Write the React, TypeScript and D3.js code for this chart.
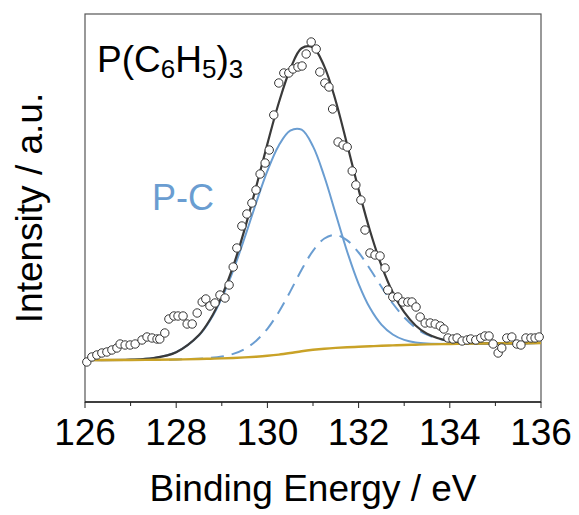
import React from 'react'
import * as d3 from 'd3'

const width = 579
const height = 515
const margin = { left: 85, right: 38, top: 14, bottom: 113 }

// measured spectrum (open circles)
const markerEnergy = [
    126.04, 126.15, 126.26, 126.37, 126.48, 126.59, 126.7, 126.77, 126.88, 126.99,
    127.1, 127.25, 127.36, 127.47, 127.58, 127.64, 127.75, 127.84, 127.95, 128.04,
    128.15, 128.24, 128.35, 128.46, 128.57, 128.65, 128.74, 128.85, 128.96, 129.07,
    129.16, 129.25, 129.33, 129.44, 129.55, 129.66, 129.75, 129.84, 129.95, 130.04,
    130.14, 130.25, 130.36, 130.47, 130.56, 130.67, 130.76, 130.85, 130.96, 131.07,
    131.15, 131.26, 131.35, 131.43, 131.55, 131.66, 131.75, 131.86, 131.94, 132.05,
    132.14, 132.25, 132.36, 132.47, 132.58, 132.64, 132.75, 132.86, 132.97, 133.08,
    133.17, 133.26, 133.35, 133.46, 133.57, 133.68, 133.79, 133.87, 133.96, 134.07,
    134.16, 134.27, 134.38, 134.46, 134.57, 134.68, 134.77, 134.86, 134.95, 135.06,
    135.14, 135.25, 135.36, 135.47, 135.56, 135.67, 135.78, 135.87, 135.96,
]
const markerIntensity = [
    40, 45, 47, 49, 50, 52, 54, 58, 57, 57,
    58, 62, 65, 64, 63, 63, 69, 83, 86, 86,
    86, 78, 78, 89, 100, 103, 96, 99, 107, 104,
    117, 135, 154, 176, 188, 199, 212, 228, 239, 252,
    287, 319, 329, 329, 333, 335, 336, 348, 360, 353,
    330, 319, 315, 293, 260, 257, 255, 231, 217, 202,
    172, 149, 147, 146, 134, 112, 105, 105, 100, 100,
    100, 95, 85, 79, 79, 78, 76, 73, 64, 63,
    64, 61, 62, 63, 62, 64, 66, 66, 58, 49,
    54, 64, 65, 58, 57, 64, 64, 64, 65,
]

// fitted curves
const fitEnergy = [
    126, 127, 127.5, 128, 128.5, 128.75, 129, 129.25, 129.5, 129.75,
    130, 130.25, 130.5, 130.75, 131, 131.25, 131.5, 131.75, 132, 132.25,
    132.5, 132.75, 133, 133.25, 133.5, 134, 134.5, 135, 136,
]
const background = [
    42, 42, 42.2, 42.5, 43, 43.3, 43.6, 44, 44.6, 45.3,
    46.2, 47.4, 49, 50.8, 52.2, 53.3, 54.1, 54.7, 55.2, 55.7,
    56.2, 56.6, 57, 57.3, 57.6, 58, 58.4, 58.6, 59,
]
const pcPeak = [
    42, 42.3, 43.9, 49.8, 66.7, 82.2, 104, 131.7, 164.2, 198.7,
    231.1, 256.6, 271.4, 272.3, 255.6, 225.2, 187.8, 150.3, 118.2, 93.9,
    77.4, 67.5, 62.1, 59.5, 58.5, 58.1, 58.4, 58.6, 59,
]
const secondPeak = [
    42, 42, 42.2, 42.5, 43.3, 44.1, 45.5, 48.1, 53, 61.1,
    73.2, 90, 110.4, 132.2, 151.1, 163.5, 167.1, 161.6, 149.5, 133,
    115.2, 98.5, 84.7, 74.3, 67.3, 60.6, 58.9, 58.6, 59,
]
const envelope = [
    42, 42.3, 43.9, 49.8, 67, 83, 105.9, 135.8, 172.6, 214.5,
    258.1, 299.2, 332.8, 353.7, 354.5, 335.4, 300.8, 257.2, 212.5, 171.2,
    136.6, 109.4, 89.8, 76.5, 68.2, 60.7, 58.9, 58.6, 59,
]

const majorTicks = [126, 128, 130, 132, 134, 136]
const minorTicks = [127, 129, 131, 133, 135]

const font = '"Liberation Sans", Arial, sans-serif'
const blue = '#6a9dd1'

const x = d3
    .scaleLinear()
    .domain([126, 136])
    .range([margin.left, width - margin.right])
const y = d3
    .scaleLinear()
    .domain([0, 388])
    .range([height - margin.bottom, margin.top])

const line = d3
    .line<number>()
    .x((d, i) => x(fitEnergy[i]))
    .y((d) => y(d))
    .curve(d3.curveCatmullRom.alpha(0.5))

export default function App() {
    const x0 = x.range()[0]
    const x1 = x.range()[1]
    const yBottom = y.range()[0]
    const yTop = y.range()[1]

    return (
        <svg
            width={width}
            height={height}
            style={{ position: 'absolute', left: 0, top: 0, background: '#fff' }}
        >
            <rect
                x={x0}
                y={yTop}
                width={x1 - x0}
                height={yBottom - yTop}
                fill="none"
                stroke="#555"
                strokeWidth={1.2}
            />
            <line x1={x0} x2={x1} y1={yBottom} y2={yBottom} stroke="#222" strokeWidth={1.3} />
            {majorTicks.map((t) => (
                <g key={t}>
                    <line x1={x(t)} x2={x(t)} y1={yBottom} y2={yBottom + 6} stroke="#222" />
                    <text
                        x={x(t)}
                        y={445}
                        textAnchor="middle"
                        fontFamily={font}
                        fontSize={37}
                        fill="#000"
                    >
                        {t}
                    </text>
                </g>
            ))}
            {minorTicks.map((t) => (
                <line key={t} x1={x(t)} x2={x(t)} y1={yBottom} y2={yBottom + 4} stroke="#222" />
            ))}

            <path
                d={line(secondPeak) || ''}
                fill="none"
                stroke={blue}
                strokeWidth={2}
                strokeDasharray="13 8"
            />
            <path d={line(pcPeak) || ''} fill="none" stroke={blue} strokeWidth={2} />
            <path d={line(envelope) || ''} fill="none" stroke="#3a3a3a" strokeWidth={2.2} />
            <path d={line(background) || ''} fill="none" stroke="#c9a227" strokeWidth={2.4} />

            {markerEnergy.map((e, i) => (
                <circle
                    key={i}
                    cx={x(e)}
                    cy={y(markerIntensity[i])}
                    r={4.2}
                    fill="#fff"
                    stroke="#333"
                    strokeWidth={1}
                />
            ))}

            <text x={97} y={71.5} fontFamily={font} fontSize={37} fill="#000">
                P(C
                <tspan fontSize={26} dy={6}>6</tspan>
                <tspan dy={-6}>H</tspan>
                <tspan fontSize={26} dy={6}>5</tspan>
                <tspan dy={-6}>)</tspan>
                <tspan fontSize={26} dy={6}>3</tspan>
            </text>
            <text x={152} y={210} fontFamily={font} fontSize={36} fill={blue}>
                P-C
            </text>

            <text
                x={(x0 + x1) / 2}
                y={501}
                textAnchor="middle"
                fontFamily={font}
                fontSize={37}
                fill="#000"
            >
                Binding Energy / eV
            </text>
            <text
                transform={`translate(42, ${(yTop + yBottom) / 2}) rotate(-90)`}
                textAnchor="middle"
                fontFamily={font}
                fontSize={37}
                fill="#000"
            >
                Intensity / a.u.
            </text>
        </svg>
    )
}
